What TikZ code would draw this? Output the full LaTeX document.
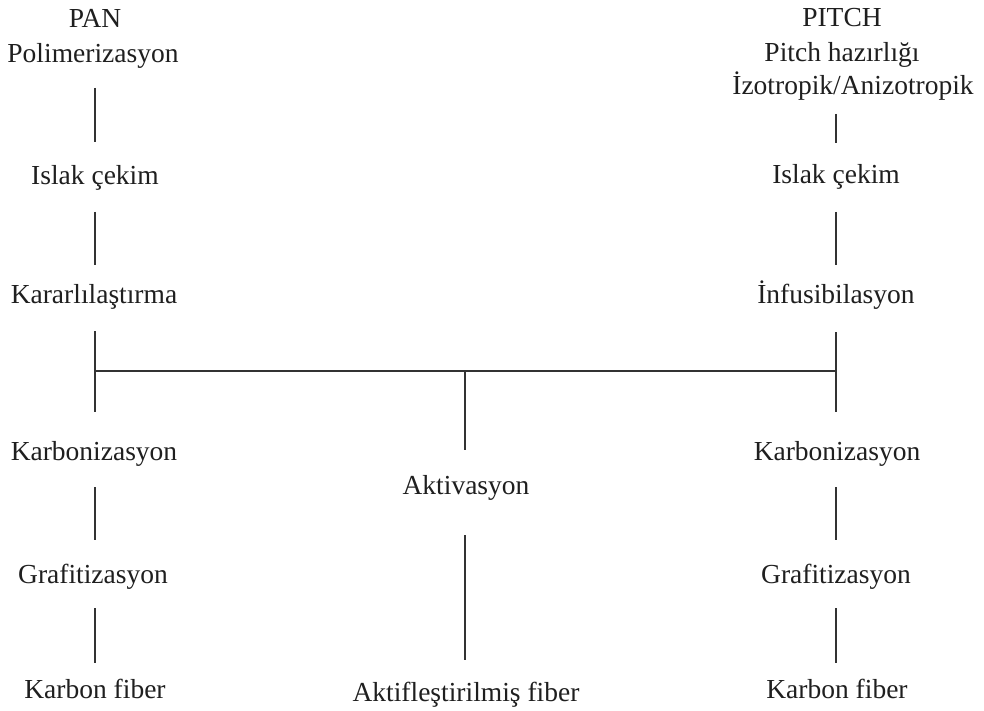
\documentclass[tikz,border=0pt]{standalone}
\usepackage{fontspec}
\setmainfont{Liberation Serif}
\begin{document}
\begin{tikzpicture}[x=1pt,y=-1pt,
  lbl/.style={anchor=base,inner sep=0pt,font=\fontsize{27.5}{30}\selectfont,text=black!88},
  conn/.style={line width=1.8pt,draw=black!80}]
\useasboundingbox[fill=white] (0,0) rectangle (984,711);
% left column (PAN)
\node[lbl] (pan) at (95,28) {PAN};
\node[lbl] (lpol) at (93,63) {Polimerizasyon};
\node[lbl] (lisl) at (95,185) {Islak çekim};
\node[lbl] (lkar) at (94,303) {Kararlılaştırma};
\node[lbl] (lcarb) at (94,460) {Karbonizasyon};
\node[lbl] (lgraf) at (93,583) {Grafitizasyon};
\node[lbl] (lfib) at (95,698) {Karbon fiber};
% right column (PITCH)
\node[lbl] (pitch) at (842,27) {PITCH};
\node[lbl] (rprep) at (842,62) {Pitch hazırlığı};
\node[lbl] (riso) at (853,95) {İzotropik/Anizotropik};
\node[lbl] (risl) at (836,184) {Islak çekim};
\node[lbl] (rinf) at (836,303) {İnfusibilasyon};
\node[lbl] (rcarb) at (837,460) {Karbonizasyon};
\node[lbl] (rgraf) at (836,583) {Grafitizasyon};
\node[lbl] (rfib) at (837,698) {Karbon fiber};
% middle
\node[lbl] (akt) at (466,494) {Aktivasyon};
\node[lbl] (afib) at (466,701) {Aktifleştirilmiş fiber};
% connector end points
\coordinate (l1a) at (95,88);  \coordinate (l1b) at (95,142);
\coordinate (l2a) at (95,212); \coordinate (l2b) at (95,265);
\coordinate (l3a) at (95,331); \coordinate (l3b) at (95,412);
\coordinate (l4a) at (95,487); \coordinate (l4b) at (95,540);
\coordinate (l5a) at (95,608); \coordinate (l5b) at (95,663);
\coordinate (r1a) at (836,114); \coordinate (r1b) at (836,143);
\coordinate (r2a) at (836,212); \coordinate (r2b) at (836,265);
\coordinate (r3a) at (836,332); \coordinate (r3b) at (836,412);
\coordinate (r4a) at (836,487); \coordinate (r4b) at (836,540);
\coordinate (r5a) at (836,608); \coordinate (r5b) at (836,663);
\coordinate (hl) at (95,371); \coordinate (hr) at (836,371);
\coordinate (hm) at (465,371); \coordinate (m1b) at (465,450);
\coordinate (m2a) at (465,535); \coordinate (m2b) at (465,660);
% connectors
\draw[conn] (l1a) -- (l1b);
\draw[conn] (l2a) -- (l2b);
\draw[conn] (l3a) -- (l3b);
\draw[conn] (l4a) -- (l4b);
\draw[conn] (l5a) -- (l5b);
\draw[conn] (r1a) -- (r1b);
\draw[conn] (r2a) -- (r2b);
\draw[conn] (r3a) -- (r3b);
\draw[conn] (r4a) -- (r4b);
\draw[conn] (r5a) -- (r5b);
\draw[conn] (hl) -- (hr);
\draw[conn] (hm) -- (m1b);
\draw[conn] (m2a) -- (m2b);
\end{tikzpicture}
\end{document}
